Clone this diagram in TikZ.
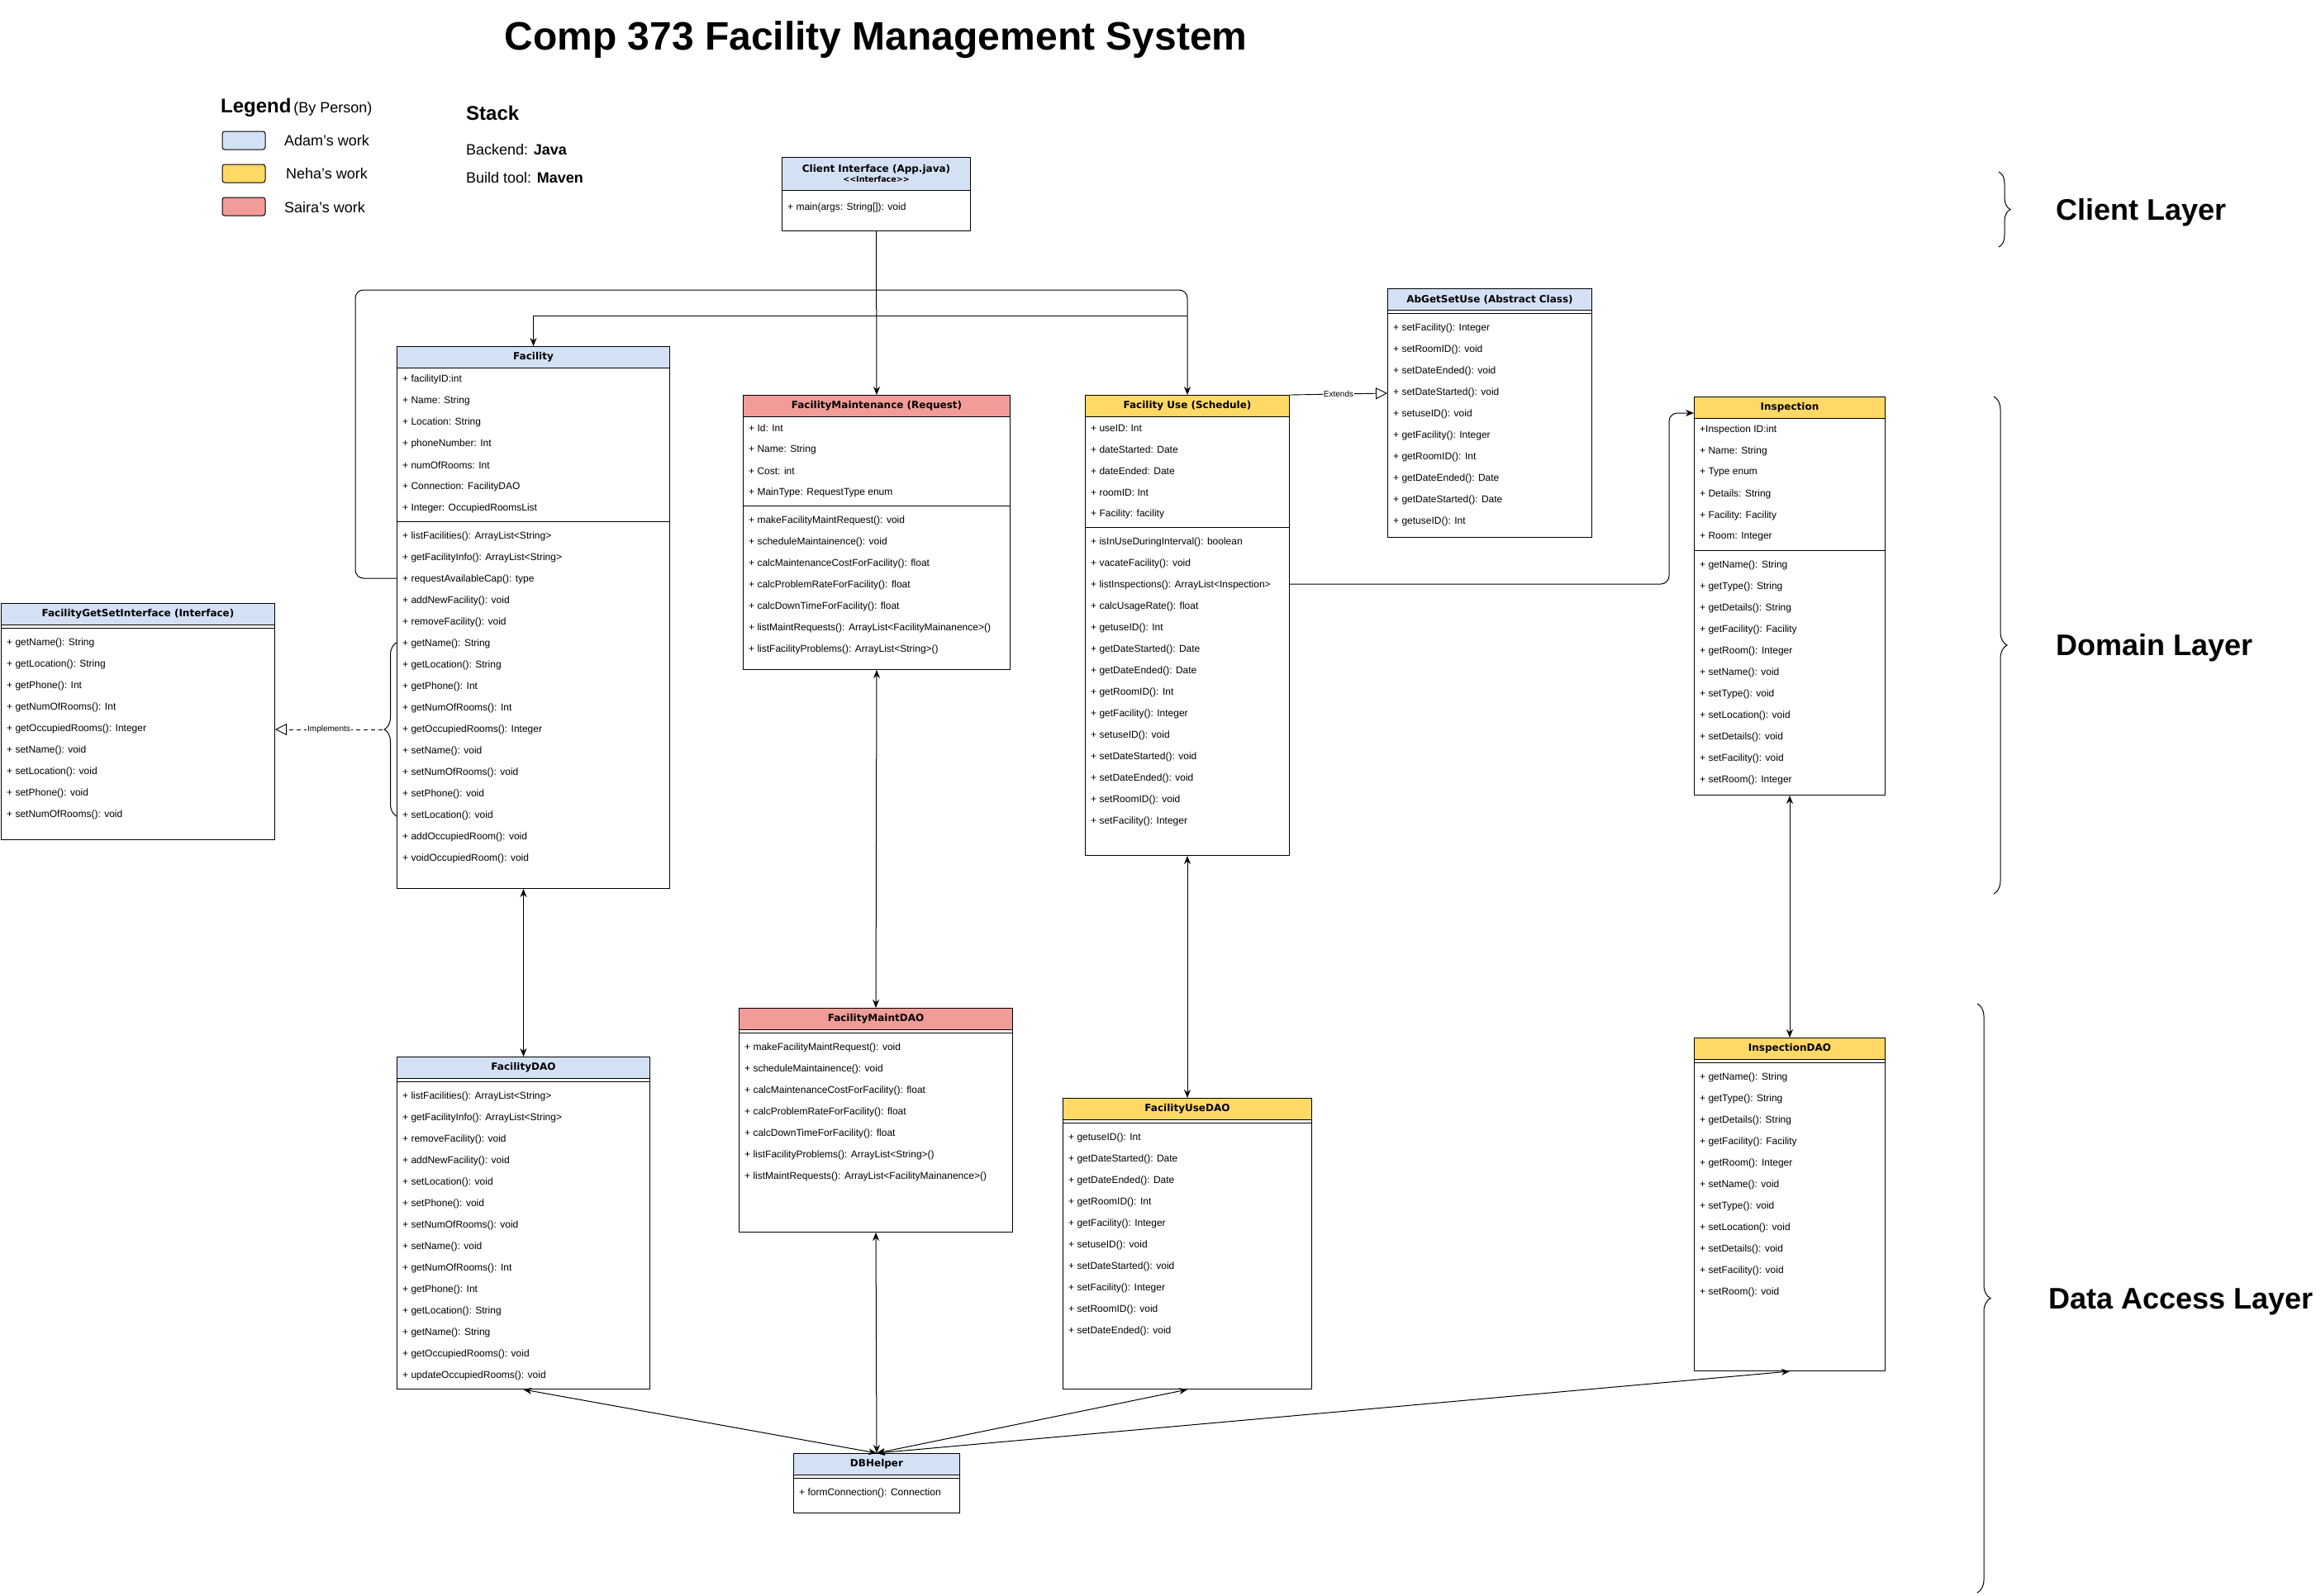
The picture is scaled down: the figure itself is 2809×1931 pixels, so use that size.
\documentclass[tikz,border=0pt]{standalone}
\usepackage{fontspec}
\setmainfont{Liberation Sans}
\newfontfamily\headfont{DejaVu Sans}
\usetikzlibrary{arrows.meta,decorations.pathreplacing}

\definecolor{adamblue}{HTML}{D4E1F5}
\definecolor{nehayellow}{HTML}{FFD966}
\definecolor{sairared}{HTML}{F19C99}

\newcommand{\rowsize}{\fontsize{12}{14}\selectfont}

\tikzset{
	clsbox/.style={draw, line width=1pt, fill=white, inner sep=0pt, anchor=north west},
	clshead/.style={draw, line width=1pt, inner sep=0pt, anchor=north west, minimum height=26pt, font=\headfont\bfseries\fontsize{12}{14}\selectfont},
	clsline/.style={line width=1pt},
	rowtext/.style={anchor=west, inner sep=0pt, font=\rowsize},
	arrow/.style={line width=1pt, -{Stealth[length=10pt,width=8pt]}},
	twoway/.style={line width=1pt, {Stealth[length=10pt,width=8pt]}-{Stealth[length=10pt,width=8pt]}},
	extendline/.style={line width=0.9pt, -{Triangle[open,length=14pt,width=14pt]}},
	implline/.style={line width=0.9pt, dash pattern=on 5pt off 4pt, -{Triangle[open,length=14pt,width=14pt]}},
	edgelabel/.style={fill=white, inner sep=1pt, font=\fontsize{10}{12}\selectfont},
	swatch/.style={draw, line width=1pt, rounded corners=3pt, minimum width=52pt, minimum height=22pt},
	layerbrace/.style={line width=1pt, decorate},
	layertext/.style={anchor=west, font=\bfseries\fontsize{36}{42}\selectfont}
}

\newcommand{\umlclass}[7]{%
	\node[clsbox, minimum width=#4pt, minimum height=#5pt] (#1) at (#2,#3) {};
	\node[clshead, fill=#6, minimum width=#4pt] (#1-head) at (#2,#3) {#7};
}
\newcommand{\clsrows}[4]{%
	\foreach \txt [count=\k from 0] in {#4}
		\node[rowtext] (#1-\k) at (#2+7, #3+1+26*\k) {\txt};
}
\newcommand{\clssep}[2]{\draw[clsline] (#1.west |- 0,#2) -- (#1.east |- 0,#2);}

\begin{document}
\begin{tikzpicture}[x=1pt, y=-1pt]
	\fill[white] (0,0) rectangle (2809,1931);
	\useasboundingbox (0,0) rectangle (2809,1931);

	\node[font=\bfseries\fontsize{48}{56}\selectfont] (title) at (1060,48) {Comp 373 Facility Management System};

	\node[anchor=west, inner sep=0pt] (legend) at (267,130) {{\bfseries\fontsize{24}{28}\selectfont Legend} {\fontsize{18}{21}\selectfont (By Person)}};
	\node[swatch, fill=adamblue] (adamkey) at (295,170) {};
	\node[swatch, fill=nehayellow] (nehakey) at (295,210) {};
	\node[swatch, fill=sairared] (sairakey) at (295,250) {};
	\node[anchor=west, inner sep=0pt, font=\fontsize{18}{21}\selectfont] (adamtext) at (344,170) {Adam's work};
	\node[anchor=west, inner sep=0pt, font=\fontsize{18}{21}\selectfont] (nehatext) at (346,210) {Neha's work};
	\node[anchor=west, inner sep=0pt, font=\fontsize{18}{21}\selectfont] (sairatext) at (344,251) {Saira's work};

	\node[anchor=west, inner sep=0pt, font=\bfseries\fontsize{24}{28}\selectfont] (stack) at (564,137) {Stack};
	\node[anchor=west, inner sep=0pt, font=\fontsize{18}{21}\selectfont] (backend) at (564,181) {Backend: \textbf{Java}};
	\node[anchor=west, inner sep=0pt, font=\fontsize{18}{21}\selectfont] (buildtool) at (564,215) {Build tool: \textbf{Maven}};

	\node[clsbox, minimum width=228pt, minimum height=89pt] (client) at (946,190) {};
	\node[clshead, fill=adamblue, minimum width=228pt, minimum height=40pt, align=center] (client-head) at (946,190) {Client Interface (App.java)\\[-2pt]{\fontsize{9.5}{11}\selectfont <{}<Interface>{}>}};
	\node[rowtext] (client-0) at (953,251) {+ main(args: String[]): void};

	\umlclass{facility}{480}{419}{330}{656}{adamblue}{Facility}
	\clsrows{facility-a}{480}{458}{+ facilityID:int, + Name: String, + Location: String, + phoneNumber: Int, + numOfRooms: Int, + Connection: FacilityDAO, + Integer: OccupiedRoomsList}
	\clssep{facility}{631}
	\clsrows{facility-m}{480}{648}{+ listFacilities(): ArrayList<String>, + getFacilityInfo(): ArrayList<String>, + requestAvailableCap(): type, + addNewFacility(): void, + removeFacility(): void, + getName(): String, + getLocation(): String, + getPhone(): Int, + getNumOfRooms(): Int, + getOccupiedRooms(): Integer, + setName(): void, + setNumOfRooms(): void, + setPhone(): void, + setLocation(): void, + addOccupiedRoom(): void, + voidOccupiedRoom(): void}

	\umlclass{iface}{1}{730}{331}{286}{adamblue}{FacilityGetSetInterface (Interface)}
	\clssep{iface}{760}
	\clsrows{iface-m}{1}{777}{+ getName(): String, + getLocation(): String, + getPhone(): Int, + getNumOfRooms(): Int, + getOccupiedRooms(): Integer, + setName(): void, + setLocation(): void, + setPhone(): void, + setNumOfRooms(): void}

	\umlclass{fm}{899}{478}{323}{332}{sairared}{FacilityMaintenance (Request)}
	\clsrows{fm-a}{899}{517}{+ Id: Int, + Name: String, + Cost: int, + MainType: RequestType enum}
	\clssep{fm}{612}
	\clsrows{fm-m}{899}{629}{+ makeFacilityMaintRequest(): void, + scheduleMaintainence(): void, + calcMaintenanceCostForFacility(): float, + calcProblemRateForFacility(): float, + calcDownTimeForFacility(): float, + listMaintRequests(): ArrayList<FacilityMainanence>(), + listFacilityProblems(): ArrayList<String>()}

	\umlclass{fuse}{1313}{478}{247}{557}{nehayellow}{Facility Use (Schedule)}
	\clsrows{fuse-a}{1313}{517}{+ useID: Int, + dateStarted: Date, + dateEnded: Date, + roomID: Int, + Facility: facility}
	\clssep{fuse}{638}
	\clsrows{fuse-m}{1313}{655}{+ isInUseDuringInterval(): boolean, + vacateFacility(): void, + listInspections(): ArrayList<Inspection>, + calcUsageRate(): float, + getuseID(): Int, + getDateStarted(): Date, + getDateEnded(): Date, + getRoomID(): Int, + getFacility(): Integer, + setuseID(): void, + setDateStarted(): void, + setDateEnded(): void, + setRoomID(): void, + setFacility(): Integer}

	\umlclass{absuse}{1679}{349}{247}{301}{adamblue}{AbGetSetUse (Abstract Class)}
	\clssep{absuse}{379}
	\clsrows{absuse-m}{1679}{396}{+ setFacility(): Integer, + setRoomID(): void, + setDateEnded(): void, + setDateStarted(): void, + setuseID(): void, + getFacility(): Integer, + getRoomID(): Int, + getDateEnded(): Date, + getDateStarted(): Date, + getuseID(): Int}

	\umlclass{insp}{2050}{480}{231}{482}{nehayellow}{Inspection}
	\clsrows{insp-a}{2050}{519}{+Inspection ID:int, + Name: String, + Type enum, + Details: String, + Facility: Facility, + Room: Integer}
	\clssep{insp}{666}
	\clsrows{insp-m}{2050}{683}{+ getName(): String, + getType(): String, + getDetails(): String, + getFacility(): Facility, + getRoom(): Integer, + setName(): void, + setType(): void, + setLocation(): void, + setDetails(): void, + setFacility(): void, + setRoom(): Integer}

	\umlclass{facdao}{480}{1279}{306}{402}{adamblue}{FacilityDAO}
	\clssep{facdao}{1309}
	\clsrows{facdao-m}{480}{1326}{+ listFacilities(): ArrayList<String>, + getFacilityInfo(): ArrayList<String>, + removeFacility(): void, + addNewFacility(): void, + setLocation(): void, + setPhone(): void, + setNumOfRooms(): void, + setName(): void, + getNumOfRooms(): Int, + getPhone(): Int, + getLocation(): String, + getName(): String, + getOccupiedRooms(): void, + updateOccupiedRooms(): void}

	\umlclass{fmdao}{894}{1220}{331}{271}{sairared}{FacilityMaintDAO}
	\clssep{fmdao}{1250}
	\clsrows{fmdao-m}{894}{1267}{+ makeFacilityMaintRequest(): void, + scheduleMaintainence(): void, + calcMaintenanceCostForFacility(): float, + calcProblemRateForFacility(): float, + calcDownTimeForFacility(): float, + listFacilityProblems(): ArrayList<String>(), + listMaintRequests(): ArrayList<FacilityMainanence>()}

	\umlclass{fusedao}{1286}{1329}{301}{352}{nehayellow}{FacilityUseDAO}
	\clssep{fusedao}{1359}
	\clsrows{fusedao-m}{1286}{1376}{+ getuseID(): Int, + getDateStarted(): Date, + getDateEnded(): Date, + getRoomID(): Int, + getFacility(): Integer, + setuseID(): void, + setDateStarted(): void, + setFacility(): Integer, + setRoomID(): void, + setDateEnded(): void}

	\umlclass{inspdao}{2050}{1256}{231}{403}{nehayellow}{InspectionDAO}
	\clssep{inspdao}{1286}
	\clsrows{inspdao-m}{2050}{1303}{+ getName(): String, + getType(): String, + getDetails(): String, + getFacility(): Facility, + getRoom(): Integer, + setName(): void, + setType(): void, + setLocation(): void, + setDetails(): void, + setFacility(): void, + setRoom(): void}

	\umlclass{dbhelper}{960}{1759}{201}{72}{adamblue}{DBHelper}
	\clssep{dbhelper}{1789}
	\clsrows{dbhelper-m}{960}{1806}{+ formConnection(): Connection}

	\draw[arrow] (client.south) -- (fm.north);
	\draw[arrow, rounded corners=10pt] ([yshift=-281pt]facility.north west) -- ++(-50,0) |- ([yshift=127pt]fuse.north) -- (fuse.north);
	\coordinate (split) at ([yshift=96pt]fuse.north);
	\draw[arrow] (split) -| (facility.north);
	\draw[arrow, rounded corners=10pt] ([yshift=-229pt]fuse.north east) -- ++(459,0) |- ([yshift=-20pt]insp.north west);

	\coordinate (extendtip) at ([yshift=-127pt]absuse.north west);
	\draw[extendline] (fuse.north east) -- (extendtip) node[midway, edgelabel] {Extends};

	\draw[layerbrace, decoration={brace, amplitude=15pt}] ([yshift=-569pt]facility.north west) -- ([yshift=-359pt]facility.north west);
	\coordinate (impltip) at ([xshift=-17pt, yshift=-464pt]facility.north west);
	\draw[implline] (impltip) -- (iface.east |- impltip) node[midway, edgelabel] {Implements};

	\draw[twoway] (facdao.north |- facility.south) -- (facdao.north);
	\draw[twoway] (fm.south) -- (fmdao.north);
	\draw[twoway] (fuse.south) -- (fusedao.north);
	\draw[twoway] (insp.south) -- (inspdao.north);

	\draw[twoway] (dbhelper.north) -- (facdao.south);
	\draw[twoway] (dbhelper.north) -- (fmdao.south);
	\draw[twoway] (dbhelper.north) -- (fusedao.south);
	\draw[twoway] (dbhelper.north) -- (inspdao.south);

	\draw[layerbrace, decoration={brace, amplitude=14pt}] (2419,208) -- (2419,299);
	\draw[layerbrace, decoration={brace, amplitude=16pt}] (2413,480) -- (2413,1082);
	\draw[layerbrace, decoration={brace, amplitude=16pt}] (2393,1215) -- (2393,1928);
	\node[layertext] (clientlayer) at (2485,257) {Client Layer};
	\node[layertext] (domainlayer) at (2485,784) {Domain Layer};
	\node[layertext] (datalayer) at (2476,1576) {Data Access Layer};
\end{tikzpicture}
\end{document}
